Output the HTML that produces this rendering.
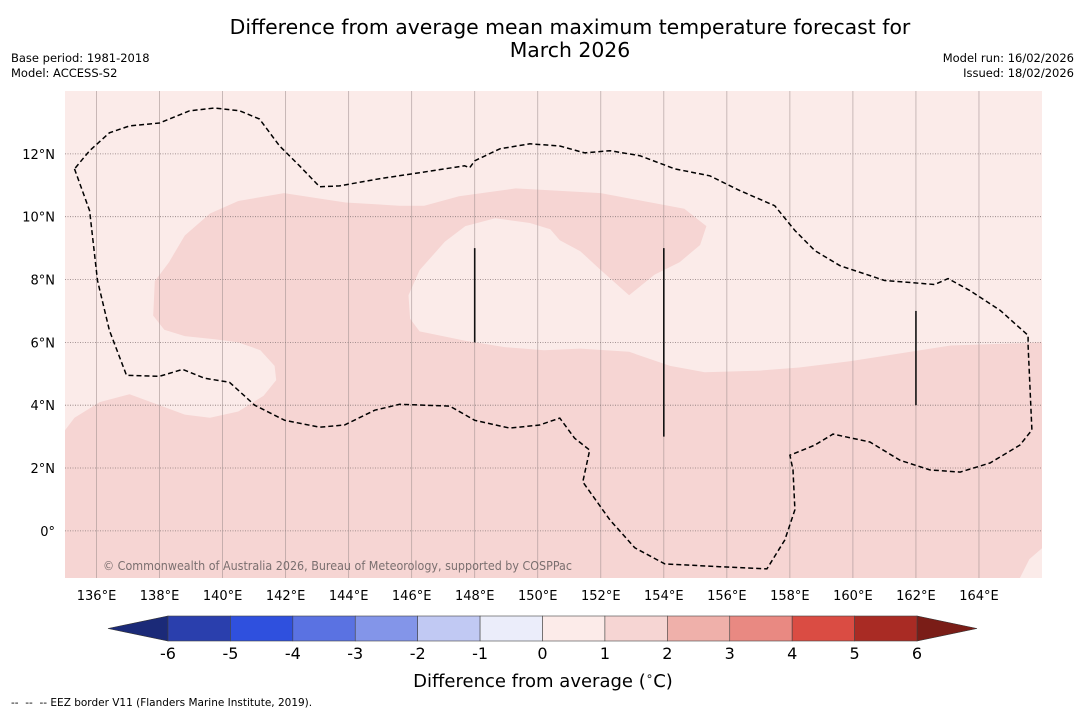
<!DOCTYPE html>
<html><head><meta charset="utf-8"><style>
body{margin:0;background:#fff;font-family:"DejaVu Sans","Liberation Sans",sans-serif;}
svg{display:block}
</style></head><body>
<svg id="c" width="1085" height="713" xmlns="http://www.w3.org/2000/svg" font-family="DejaVu Sans, Liberation Sans, sans-serif">
<text x="570" y="34" font-size="20.4" text-anchor="middle">Difference from average mean maximum temperature forecast for</text>
<text x="570" y="57" font-size="20.4" text-anchor="middle">March 2026</text>
<text x="11" y="62" font-size="11.5">Base period: 1981-2018</text>
<text x="11" y="77" font-size="11.5">Model: ACCESS-S2</text>
<text x="1074" y="62" font-size="11.5" text-anchor="end">Model run: 16/02/2026</text>
<text x="1074" y="77" font-size="11.5" text-anchor="end">Issued: 18/02/2026</text>
<g id="map"></g>
<g id="cbar"></g>
<text x="543" y="687" font-size="18" text-anchor="middle">Difference from average (<tspan font-size="12" dy="-7">∘</tspan><tspan dy="7">C)</tspan></text>
<text x="11" y="706" font-size="10.5" xml:space="preserve">--  --  -- EEZ border V11 (Flanders Marine Institute, 2019).</text>
</svg>
<script>
const lonTicks=[136,138,140,142,144,146,148,150,152,154,156,158,160,162,164];
const latTicks=[0,2,4,6,8,10,12];
const cbarLevels=[-6,-5,-4,-3,-2,-1,0,1,2,3,4,5,6];
const cbarColors=["#2a3fad","#2f50de","#5a72e2","#8395e9","#c1c9f3","#ebedfa","#fcebe9","#f6d5d3","#efb0aa","#e98982","#da4c43","#a92b24"];
const anomaly12=[[135,3.2],[135.3,3.6],[136.1,4.1],[137.05,4.35],[138,4],[138.8,3.7],[139.6,3.6],[140.5,3.8],[141.3,4.3],[141.7,4.8],[141.65,5.25],[141.2,5.75],[140.5,6],[139.75,6.1],[138.8,6.2],[138.15,6.4],[137.8,6.85],[137.85,7.95],[138.3,8.55],[138.8,9.4],[139.6,10.1],[140.5,10.5],[141.95,10.75],[143.9,10.45],[145.6,10.35],[146.4,10.35],[147.5,10.65],[149.3,10.9],[152,10.75],[154.65,10.25],[155.35,9.7],[155.15,9.1],[154.5,8.55],[153.7,8.15],[152.9,7.5],[152,8.3],[151.35,8.9],[150.7,9.25],[150.4,9.6],[149.75,9.8],[148.65,9.95],[147.7,9.7],[147.05,9.2],[146.25,8.3],[145.9,7.5],[145.95,6.75],[146.25,6.35],[147.7,6.05],[148.95,5.85],[150.2,5.75],[151.35,5.8],[152.9,5.7],[154.2,5.25],[155.3,5.05],[157.05,5.1],[158.3,5.2],[159.9,5.4],[161.5,5.65],[163.1,5.9],[164.65,5.95],[166,6],[166,-0.55],[165.6,-0.9],[165.3,-1.5],[135,-1.5]];
const eez=[[135.3,11.52],[135.78,10.19],[136.03,7.97],[136.41,6.38],[136.95,4.95],[138,4.92],[138.73,5.14],[139.43,4.86],[140.22,4.73],[141.02,4],[141.97,3.52],[143.08,3.3],[143.87,3.37],[144.83,3.84],[145.62,4.03],[147.21,3.97],[148,3.52],[149.11,3.27],[150.06,3.37],[150.7,3.59],[151.17,2.95],[151.65,2.57],[151.43,1.56],[152.29,0.35],[153.08,-0.54],[154.03,-1.05],[155.78,-1.14],[157.27,-1.21],[157.84,-0.29],[158.16,0.67],[158.1,1.94],[158,2.41],[158.79,2.73],[159.37,3.08],[160.54,2.83],[161.49,2.25],[162.44,1.94],[163.4,1.87],[164.35,2.16],[165.3,2.73],[165.68,3.21],[165.56,5.9],[165.56,6.22],[164.67,7.02],[163.71,7.65],[163.02,8.03],[162.6,7.84],[161.01,7.97],[159.59,8.44],[158.79,8.92],[158.16,9.56],[157.52,10.35],[156.41,10.83],[155.46,11.3],[154.35,11.52],[153.24,11.94],[152.29,12.1],[151.49,12.03],[150.7,12.25],[149.75,12.32],[148.8,12.16],[148,11.78],[147.84,11.56],[147.68,11.62],[146.25,11.4],[144.98,11.21],[143.71,10.98],[143.08,10.95],[142.44,11.62],[141.81,12.25],[141.17,13.11],[140.54,13.37],[139.75,13.46],[138.95,13.37],[138,12.98],[137.05,12.89],[136.41,12.67],[135.78,12.1],[135.3,11.52]];
const islandLines=[[148,9,6],[154,9,3],[162,7,4]];
const NS="http://www.w3.org/2000/svg";
const X0=65,X1=1042,Y0=91,Y1=578,LON0=135,LON1=166,LAT0=-1.5,LAT1=14;
const xs=l=>X0+(l-LON0)/(LON1-LON0)*(X1-X0);
const ys=l=>Y1-(l-LAT0)/(LAT1-LAT0)*(Y1-Y0);
function mk(tag,attrs,parent){const e=document.createElementNS(NS,tag);for(const k in attrs)e.setAttribute(k,attrs[k]);parent.appendChild(e);return e;}
const map=document.getElementById('map');
let bg=mk('rect',{x:X0,y:Y0,width:X1-X0,height:Y1-Y0,fill:'#fbebe9'},map);


const pts=a=>a.map(p=>xs(p[0]).toFixed(1)+','+ys(p[1]).toFixed(1)).join(' ');
let poly=mk('polygon',{points:pts(anomaly12),fill:'#f6d5d3'},map);


lonTicks.forEach(l=>{
 let g=mk('line',{x1:xs(l),x2:xs(l),y1:Y0,y2:Y1,stroke:'#a09090','stroke-width':0.8,opacity:0.7},map);
 
 
 let t=mk('text',{x:xs(l),y:600,'font-size':13,'text-anchor':'middle'},map);t.textContent=l+'°E';
 
 
});
latTicks.forEach(l=>{
 let g=mk('line',{x1:X0,x2:X1,y1:ys(l),y2:ys(l),stroke:'#8a7a7a','stroke-width':0.8,'stroke-dasharray':'1,1.5'},map);
 
 
 let t=mk('text',{x:55,y:ys(l)+5,'font-size':13,'text-anchor':'end'},map);t.textContent=l===0?'0°':l+'°N';
 
 
});
let ez=mk('polyline',{points:pts(eez),fill:'none',stroke:'#000','stroke-width':1.5,'stroke-dasharray':'5,3'},map);


islandLines.forEach(d=>{
 let l=mk('line',{x1:xs(d[0]),x2:xs(d[0]),y1:ys(d[1]),y2:ys(d[2]),stroke:'#111','stroke-width':1.6},map);
 
 
});
let wm=mk('text',{x:103,y:570,'font-size':12,fill:'#7a6f6f',textLength:469,lengthAdjust:'spacingAndGlyphs'},map);wm.textContent='© Commonwealth of Australia 2026, Bureau of Meteorology, supported by COSPPac';


const cb=document.getElementById('cbar');
const CX0=168,CX1=917,CY0=616,CY1=641;
const cx=v=>CX0+(v-cbarLevels[0])/(cbarLevels[cbarLevels.length-1]-cbarLevels[0])*(CX1-CX0);
let lt=mk('polygon',{points:`${CX0},${CY0} ${CX0},${CY1} 108,628.5`,fill:'#1b2a78',stroke:'#333','stroke-width':0.6},cb);


let rt=mk('polygon',{points:`${CX1},${CY0} ${CX1},${CY1} 977,628.5`,fill:'#7a1d17',stroke:'#333','stroke-width':0.6},cb);


cbarColors.forEach((c,i)=>{
 let r=mk('rect',{x:cx(cbarLevels[i]),y:CY0,width:cx(cbarLevels[i+1])-cx(cbarLevels[i]),height:CY1-CY0,fill:c,stroke:'#444','stroke-width':0.6},cb);
 
 
});
cbarLevels.forEach(v=>{
 let t=mk('text',{x:cx(v),y:659,'font-size':16,'text-anchor':'middle'},cb);t.textContent=v;
 
 
});
</script>
</body></html>
